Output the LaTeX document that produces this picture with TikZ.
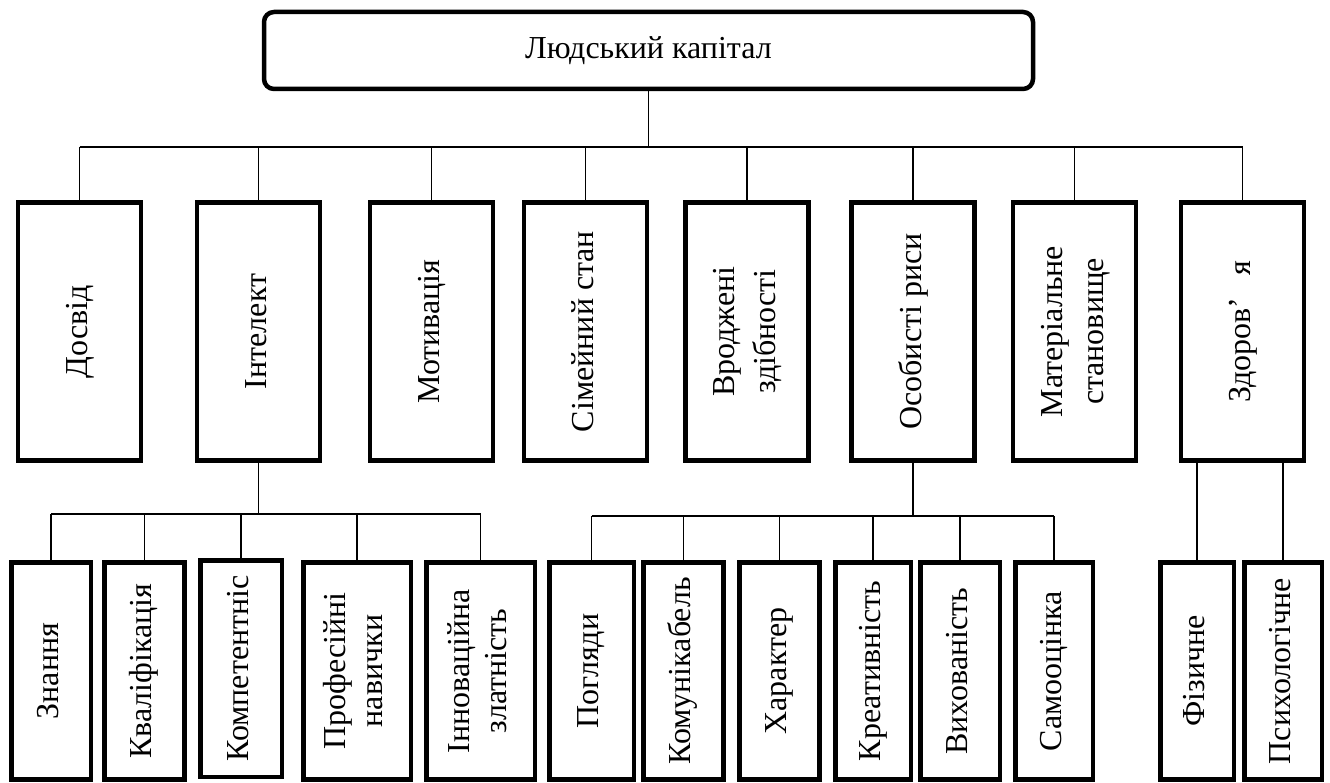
\documentclass[tikz,border=0pt]{standalone}
\usepackage{fontspec}
\setmainfont{Liberation Serif}
\usepackage{graphicx}
\newcommand{\vlabel}[1]{\rotatebox{90}{\begin{tabular}{@{}c@{}}#1\end{tabular}}}

\begin{document}
\begin{tikzpicture}[x=1pt, y=-1pt,
	capital/.style = { draw, line width=4.5pt, rounded corners=10pt,
			minimum width=769pt, minimum height=77pt,
			font=\fontsize{32}{36}\selectfont },
	factor/.style = { draw, line width=4.5pt, minimum width=123pt,
			minimum height=258pt, inner sep=0pt,
			font=\fontsize{32}{41}\selectfont },
	subbox/.style = { draw, line width=4.5pt, minimum width=80pt,
			minimum height=217pt, inner sep=0pt,
			font=\fontsize{32}{37}\selectfont },
	wire/.style = { line width=1.5pt }]

  \useasboundingbox (0,0) rectangle (1330,783);

  \node[name=capital, capital] at (648.5,50.5) {Людський капітал};

  % first level
  \node[name=dosvid, factor] at (79.5,331.5) {\vlabel{Досвід}};
  \node[name=intelekt, factor] at (258.5,331.5) {\vlabel{Інтелект}};
  \node[name=motyv, factor] at (431.5,331.5) {\vlabel{Мотивація}};
  \node[name=simstan, factor] at (585.5,331.5) {\vlabel{Сімейний стан}};
  \node[name=vrodzh, factor] at (747,331.5) {\vlabel{Вроджені\\здібності}};
  \node[name=osobr, factor] at (913,331.5) {\vlabel{Особисті риси}};
  \node[name=mater, factor] at (1074.5,331.5) {\vlabel{Матеріальне\\становище}};
  \node[name=zdorov, factor] at (1242.5,331.5) {\vlabel{Здоров’\hspace{0.7em}я}};

  \coordinate (bus) at (0,147);
  \draw [wire] (capital.south) -- (capital.south |- bus);
  \draw [wire] (dosvid.north |- bus) -- (zdorov.north |- bus);
  \draw [wire] (dosvid.north) -- (dosvid.north |- bus);
  \draw [wire] (intelekt.north) -- (intelekt.north |- bus);
  \draw [wire] (motyv.north) -- (motyv.north |- bus);
  \draw [wire] (simstan.north) -- (simstan.north |- bus);
  \draw [wire] (vrodzh.north) -- (vrodzh.north |- bus);
  \draw [wire] (osobr.north) -- (osobr.north |- bus);
  \draw [wire] (mater.north) -- (mater.north |- bus);
  \draw [wire] (zdorov.north) -- (zdorov.north |- bus);

  % under intelekt
  \node[name=znannya, subbox, minimum width=79.5pt] at (51,671) {\vlabel{Знання}};
  \node[name=kvalif, subbox] at (144.5,671) {\vlabel{Кваліфікація}};
  \node[name=kompet, subbox, minimum width=81.5pt, minimum height=216.5pt]
	at (241,668.5) {\vlabel{Компетентніс}};
  \node[name=profes, subbox, minimum width=107.5pt] at (357,671)
	{\vlabel{Професійні\\навички}};
  \node[name=innov, subbox, minimum width=108.5pt] at (480.5,671)
	{\vlabel{Інноваційна\\златність}};

  \coordinate (busi) at (0,514);
  \draw [wire] (intelekt.south) -- (intelekt.south |- busi);
  \draw [wire] (znannya.north |- busi) -- (innov.north |- busi);
  \draw [wire] (znannya.north) -- (znannya.north |- busi);
  \draw [wire] (kvalif.north) -- (kvalif.north |- busi);
  \draw [wire] (kompet.north) -- (kompet.north |- busi);
  \draw [wire] (profes.north) -- (profes.north |- busi);
  \draw [wire] (innov.north) -- (innov.north |- busi);

  % under osobr
  \node[name=pohlyady, subbox, minimum width=84.5pt] at (591.5,671) {\vlabel{Погляди}};
  \node[name=komunik, subbox] at (683.5,671) {\vlabel{Комунікабель}};
  \node[name=kharakter, subbox] at (779.5,671) {\vlabel{Характер}};
  \node[name=kreat, subbox, minimum width=75.5pt] at (873,671) {\vlabel{Креативність}};
  \node[name=vykhov, subbox, minimum width=79.5pt] at (960,671) {\vlabel{Вихованість}};
  \node[name=samoots, subbox, minimum width=77.5pt] at (1054,671) {\vlabel{Самооцінка}};

  \coordinate (buso) at (0,516);
  \draw [wire] (osobr.south) -- (osobr.south |- buso);
  \draw [wire] (pohlyady.north |- buso) -- (samoots.north |- buso);
  \draw [wire] (pohlyady.north) -- (pohlyady.north |- buso);
  \draw [wire] (komunik.north) -- (komunik.north |- buso);
  \draw [wire] (kharakter.north) -- (kharakter.north |- buso);
  \draw [wire] (kreat.north) -- (kreat.north |- buso);
  \draw [wire] (vykhov.north) -- (vykhov.north |- buso);
  \draw [wire] (samoots.north) -- (samoots.north |- buso);

  % under zdorov
  \node[name=fiz, subbox, minimum width=73.5pt] at (1197,671) {\vlabel{Фізичне}};
  \node[name=psykh, subbox, minimum width=77.5pt] at (1283,671) {\vlabel{Психологічне}};
  \draw [wire] (fiz.north) -- (fiz.north |- zdorov.south);
  \draw [wire] (psykh.north) -- (psykh.north |- zdorov.south);
\end{tikzpicture}
\end{document}
